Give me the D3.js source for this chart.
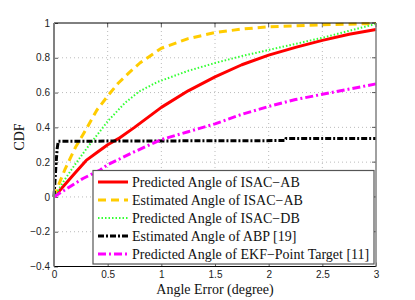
<!DOCTYPE html>
<html>
<head>
<meta charset="utf-8">
<script src="https://cdn.jsdelivr.net/npm/d3@7"></script>
<style>
  html, body { margin: 0; padding: 0; background: #fff; }
  svg { display: block; }
</style>
</head>
<body>
<svg id="chart" width="415" height="300"></svg>
<script>
// ---- Data ----
const xTicks = [0, 0.5, 1, 1.5, 2, 2.5, 3];
const yTicks = [-0.4, -0.2, 0, 0.2, 0.4, 0.6, 0.8, 1];

const predISACAB_x = [0, 0.1, 0.2, 0.3, 0.4, 0.5, 0.6, 0.75, 1.0, 1.25, 1.5, 1.75, 2.0, 2.25, 2.5, 2.75, 3.0];
const predISACAB_y = [0, 0.07, 0.14, 0.21, 0.255, 0.30, 0.335, 0.40, 0.515, 0.61, 0.69, 0.76, 0.815, 0.86, 0.90, 0.935, 0.963];

const estISACAB_x = [0, 0.05, 0.1, 0.2, 0.3, 0.4, 0.5, 0.6, 0.7, 0.8, 1.0, 1.25, 1.5, 1.75, 2.0, 2.5, 3.0];
const estISACAB_y = [0, 0.08, 0.155, 0.285, 0.39, 0.50, 0.58, 0.655, 0.715, 0.77, 0.855, 0.91, 0.945, 0.965, 0.978, 0.99, 0.997];

const predISACDB_x = [0, 0.1, 0.2, 0.3, 0.4, 0.5, 0.66, 0.79, 0.96, 1.25, 1.5, 1.75, 2.0, 2.25, 2.5, 2.75, 3.0];
const predISACDB_y = [0, 0.10, 0.19, 0.275, 0.355, 0.435, 0.54, 0.605, 0.66, 0.725, 0.77, 0.81, 0.845, 0.88, 0.915, 0.955, 0.995];

const estABP_x = [0, 0.01, 0.02, 0.03, 0.04, 1.0, 2.15, 2.16, 3.0];
const estABP_y = [0, 0.10, 0.20, 0.28, 0.32, 0.322, 0.324, 0.336, 0.336];

const predEKF_x = [0, 0.1, 0.27, 0.43, 0.5, 0.75, 1.0, 1.25, 1.5, 1.75, 2.0, 2.25, 2.5, 2.75, 3.0];
const predEKF_y = [0, 0.04, 0.106, 0.155, 0.185, 0.26, 0.33, 0.375, 0.42, 0.475, 0.52, 0.56, 0.59, 0.62, 0.65];

const seriesNames = [
  "Predicted Angle of ISAC\u2212AB",
  "Estimated Angle of ISAC\u2212AB",
  "Predicted Angle of ISAC\u2212DB",
  "Estimated Angle of ABP [19]",
  "Predicted Angle of EKF\u2212Point Target [11]"
];

// ---- Styling ----
const styles = [
  { color: "#ff0000", width: 3, dash: null },
  { color: "#ffcc00", width: 3, dash: "8,5" },
  { color: "#33ff33", width: 2, dash: "1.5,2" },
  { color: "#000000", width: 3, dash: "6,2,2,2" },
  { color: "#ff00ff", width: 3, dash: "8,3,2,3" }
];

const seriesData = [
  predISACAB_x.map((x, i) => [x, predISACAB_y[i]]),
  estISACAB_x.map((x, i) => [x, estISACAB_y[i]]),
  predISACDB_x.map((x, i) => [x, predISACDB_y[i]]),
  estABP_x.map((x, i) => [x, estABP_y[i]]),
  predEKF_x.map((x, i) => [x, predEKF_y[i]])
];

const svg = d3.select("#chart");
const L = 54, R = 376, T = 23, B = 266.5;

const x = d3.scaleLinear().domain([0, 3]).range([L, R]);
const y = d3.scaleLinear().domain([-0.4, 1]).range([B, T]);

// grid
const grid = svg.append("g");
grid.selectAll(".gx").data(xTicks.slice(1, -1)).enter().append("line")
  .attr("x1", d => x(d)).attr("x2", d => x(d)).attr("y1", T).attr("y2", B)
  .attr("stroke", "#aaa").attr("stroke-width", 0.8).attr("stroke-dasharray", "1,3");
grid.selectAll(".gy").data(yTicks.slice(1, -1)).enter().append("line")
  .attr("y1", d => y(d)).attr("y2", d => y(d)).attr("x1", L).attr("x2", R)
  .attr("stroke", "#aaa").attr("stroke-width", 0.8).attr("stroke-dasharray", "1,3");

// axes with inward ticks
const xAxis = d3.axisBottom(x).tickValues(xTicks).tickSize(-4).tickPadding(4)
  .tickFormat(d => d3.format("")(d));
const yAxis = d3.axisLeft(y).tickValues(yTicks).tickSize(-4).tickPadding(4)
  .tickFormat(d => (d < 0 ? "\u2212" : "") + Math.abs(d));

const gx = svg.append("g").attr("transform", `translate(0,${B})`).call(xAxis);
const gy = svg.append("g").attr("transform", `translate(${L},0)`).call(yAxis);
[gx, gy].forEach(g => {
  g.select(".domain").remove();
  g.selectAll("text").attr("font-family", "Liberation Sans, Arial, sans-serif")
    .attr("font-size", 10).attr("fill", "#222");
  g.selectAll("line").attr("stroke", "#333").attr("stroke-width", 0.8);
});
// top / right ticks
svg.append("g").selectAll("line").data(xTicks).enter().append("line")
  .attr("x1", d => x(d)).attr("x2", d => x(d)).attr("y1", T).attr("y2", T + 4)
  .attr("stroke", "#333").attr("stroke-width", 0.8);
svg.append("g").selectAll("line").data(yTicks).enter().append("line")
  .attr("x1", R).attr("x2", R - 4).attr("y1", d => y(d)).attr("y2", d => y(d))
  .attr("stroke", "#333").attr("stroke-width", 0.8);

// data lines
const line = d3.line().x(d => x(d[0])).y(d => y(d[1]));
const plot = svg.append("g");
seriesData.forEach((data, i) => {
  const s = styles[i];
  plot.append("path").datum(data).attr("d", line)
    .attr("fill", "none").attr("stroke", s.color).attr("stroke-width", s.width)
    .attr("stroke-dasharray", s.dash).attr("stroke-linejoin", "round");
});

// frame
svg.append("line").attr("x1", L).attr("x2", R).attr("y1", T).attr("y2", T).attr("stroke", "#000").attr("stroke-width", 1);
svg.append("line").attr("x1", L).attr("x2", R).attr("y1", B).attr("y2", B).attr("stroke", "#000").attr("stroke-width", 1);
svg.append("line").attr("x1", L).attr("x2", L).attr("y1", T).attr("y2", B).attr("stroke", "#808080").attr("stroke-width", 2);
svg.append("line").attr("x1", R).attr("x2", R).attr("y1", T).attr("y2", B).attr("stroke", "#808080").attr("stroke-width", 1.5);

// axis labels
svg.append("text").attr("x", (L + R) / 2).attr("y", 294)
  .attr("text-anchor", "middle").attr("font-family", "Liberation Serif, Times New Roman, serif")
  .attr("font-size", 14).attr("fill", "#111").text("Angle Error (degree)");
svg.append("text").attr("transform", "translate(24,137) rotate(-90)")
  .attr("text-anchor", "middle").attr("font-family", "Liberation Serif, Times New Roman, serif")
  .attr("font-size", 14).attr("fill", "#111").text("CDF");

// legend
const lg = svg.append("g");
lg.append("rect").attr("x", 93).attr("y", 170.5).attr("width", 281).attr("height", 93.5)
  .attr("fill", "#fff").attr("stroke", "#555").attr("stroke-width", 1.2);
const rowY = d3.scaleLinear().domain([0, 4]).range([182, 254]);
seriesNames.forEach((name, i) => {
  const s = styles[i];
  const yy = rowY(i);
  lg.append("line").attr("x1", 98).attr("x2", 128).attr("y1", yy).attr("y2", yy)
    .attr("stroke", s.color).attr("stroke-width", s.width).attr("stroke-dasharray", s.dash);
  lg.append("text").attr("x", 132).attr("y", yy + 5)
    .attr("font-family", "Liberation Serif, Times New Roman, serif").attr("font-size", 14)
    .attr("fill", "#111").text(name);
});
</script>
</body>
</html>
